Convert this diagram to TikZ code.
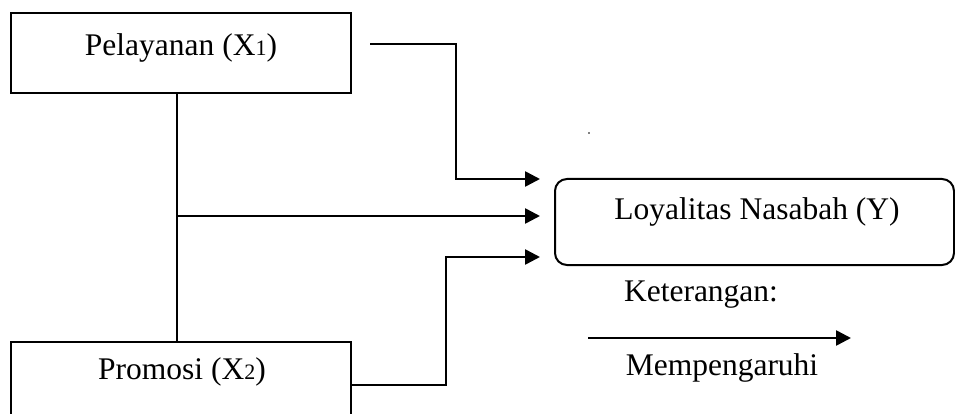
\documentclass[tikz,border=0pt]{standalone}
\usepackage{fontspec}
\setmainfont{Liberation Serif}
\usetikzlibrary{arrows.meta}
\newcommand{\sub}[1]{{\fontsize{22}{22}\selectfont #1}}
\colorlet{box edge}{black}
\tikzset{varbox/.style={draw=box edge, line width=2pt, minimum width=340pt, inner sep=0pt},
    ybox/.style={draw=box edge, line width=2pt, rounded corners=12pt, minimum width=399pt, minimum height=86pt, inner sep=0pt},
    txt/.style={font=\fontsize{31.5}{36}\selectfont, inner sep=0pt},
    link/.style={draw=black, line width=2.6pt},
    arrow/.style={link, -{Triangle[length=15pt,width=15pt]}}}

\begin{document}
\begin{tikzpicture}[x=1pt, y=-1pt]
 \useasboundingbox (0,0) rectangle (955,414);

 % boxes
 \node[varbox, minimum height=80pt] (x1) at (181,53) {};
 \node[varbox, minimum height=100pt] (x2) at (181,392) {};
 \node[ybox] (y) at (754.5,222) {};

 \node[txt] (x1txt) at (181,48) {Pelayanan (X\sub{1})};
 \node[txt] (x2txt) at (182,372) {Promosi (X\sub{2})};
 \node[txt] (ytxt) at (757,212) {Loyalitas Nasabah (Y)};

 % turning points
 \coordinate (a1) at (370,44);
 \coordinate (a2) at (456,44);
 \coordinate (b1) at (177,216);
 \coordinate (c1) at (446,385);
 \coordinate (t1) at (540,179);
 \coordinate (t2) at (540,216);
 \coordinate (t3) at (540,257);

 \draw[link] (x1.south -| b1) -- (x2.north -| b1);
 \draw[arrow] (a1) -- (a2) |- (t1);
 \draw[arrow] (b1) -- (t2);
 \draw[arrow] (x2.east |- c1) -| (c1) |- (t3);

 % stray dot
 \fill (589,133) circle (0.9pt);

 % legend
 \node[txt] (ket) at (701,295) {Keterangan:};
 \coordinate (l1) at (588,338);
 \coordinate (l2) at (851,338);
 \draw[arrow] (l1) -- (l2);
 \node[txt] (mem) at (722,368) {Mempengaruhi};

\end{tikzpicture}
\end{document}
